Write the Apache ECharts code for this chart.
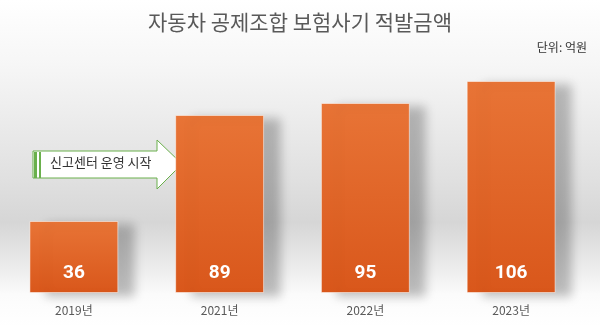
<!DOCTYPE html>
<html>
<head>
<meta charset="utf-8">
<script src="https://cdn.jsdelivr.net/npm/echarts@6/dist/echarts.min.js"></script>
<style>
  html, body { margin: 0; padding: 0; }
  #chart { width: 600px; height: 327px; }
</style>
</head>
<body>
<div id="chart"></div>
<script>
var years = ['2019년', '2021년', '2022년', '2023년'];
var amounts = [36, 89, 95, 106];

var font = '"Noto Sans CJK KR", "Noto Sans", sans-serif';
var myChart = echarts.init(document.getElementById('chart'));

myChart.setOption({
    backgroundColor: {
        type: 'linear', x: 0, y: 0, x2: 0, y2: 1,
        colorStops: [
            {offset: 0, color: '#ffffff'},
            {offset: 0.2, color: '#f6f6f6'},
            {offset: 0.55, color: '#e0e0e0'},
            {offset: 0.68, color: '#d6d6d6'},
            {offset: 0.82, color: '#ececec'},
            {offset: 0.9, color: '#fbfbfb'},
            {offset: 1, color: '#ffffff'}
        ]
    },
    textStyle: {fontFamily: font},
    title: [
        {
            text: '자동차 공제조합 보험사기 적발금액',
            left: 'center',
            top: 7,
            textStyle: {fontSize: 21, fontWeight: 'normal', color: '#595959', fontFamily: font}
        },
        {
            text: '단위: 억원',
            right: 8,
            top: 36,
            textStyle: {fontSize: 12, fontWeight: 'normal', color: '#333', fontFamily: font}
        }
    ],
    grid: {left: 1, right: 16, top: 53, bottom: 34},
    xAxis: {
        type: 'category',
        data: years,
        axisLine: {show: false},
        axisTick: {show: false},
        axisLabel: {fontSize: 12, color: '#595959', margin: 11}
    },
    yAxis: {
        type: 'value',
        min: 0,
        max: 120,
        show: false,
        splitLine: {show: false}
    },
    series: [
        {
            type: 'bar',
            data: amounts,
            barWidth: '61%',
            itemStyle: {
                color: {
                    type: 'linear', x: 0, y: 0, x2: 0, y2: 1,
                    colorStops: [
                        {offset: 0, color: '#e87436'},
                        {offset: 1, color: '#d9571b'}
                    ]
                },
                borderColor: 'rgba(255,255,255,0.5)',
                borderWidth: 1,
                shadowColor: 'rgba(0,0,0,0.25)',
                shadowBlur: 10,
                shadowOffsetX: 16,
                shadowOffsetY: 3
            },
            label: {
                show: true,
                position: 'insideBottom',
                distance: 10,
                color: '#fff',
                fontSize: 19,
                fontWeight: 'bold',
                fontFamily: 'Roboto, "Liberation Sans", sans-serif'
            }
        }
    ],
    graphic: [
        {
            type: 'polygon',
            shape: {points: [[33, 151], [157, 151], [157, 140], [182, 164], [157, 189], [157, 178], [33, 178]]},
            style: {fill: '#ffffff', stroke: '#6ab04c', lineWidth: 1}
        },
        {type: 'rect', shape: {x: 34, y: 152, width: 3, height: 26}, style: {fill: '#6ab04c'}},
        {type: 'rect', shape: {x: 39, y: 152, width: 2, height: 26}, style: {fill: '#6ab04c'}},
        {
            type: 'text',
            left: 50,
            top: 156,
            style: {text: '신고센터 운영 시작', fontSize: 13, fill: '#333', fontFamily: font}
        }
    ]
});
</script>
</body>
</html>
